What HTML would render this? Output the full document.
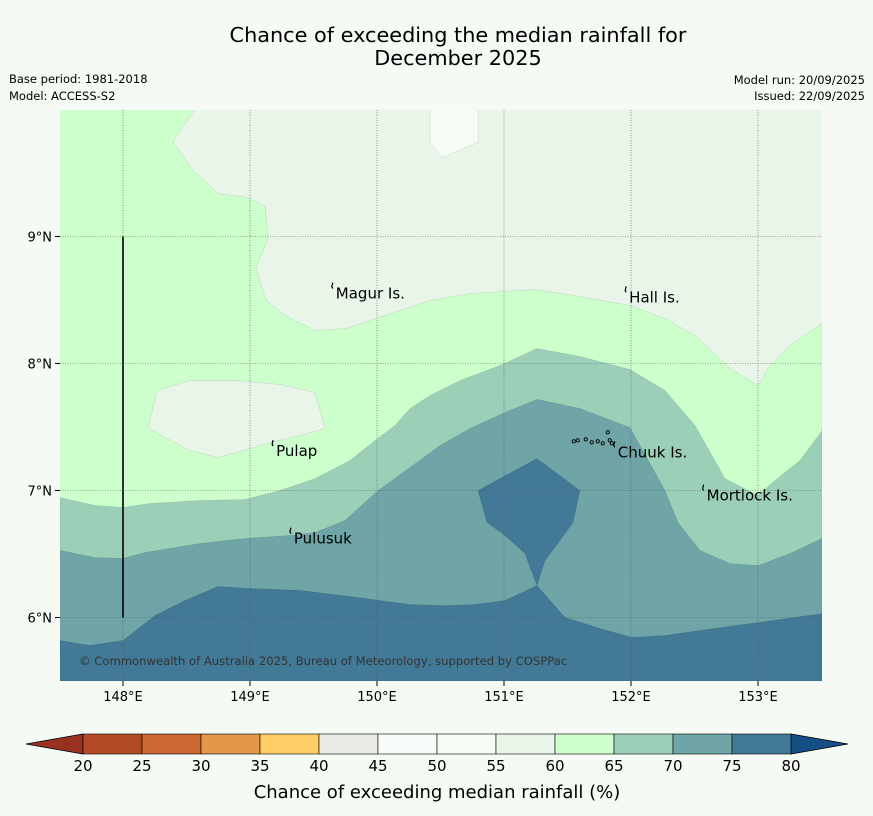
<!DOCTYPE html>
<html><head><meta charset="utf-8">
<style>
body{margin:0;background:#f5faf5;}
svg{display:block;font-family:"DejaVu Sans","Liberation Sans",sans-serif;}
</style></head>
<body>
<svg id="chart" width="873" height="816" viewBox="0 0 873 816" xmlns="http://www.w3.org/2000/svg">
<rect width="873" height="816" fill="#f5faf5"/>
<text x="458" y="42" font-size="20.8" text-anchor="middle" fill="#000">Chance of exceeding the median rainfall for</text>
<text x="458" y="65" font-size="20.8" text-anchor="middle" fill="#000">December 2025</text>
<text x="9" y="83" font-size="11.5">Base period: 1981-2018</text>
<text x="9" y="100" font-size="11.5">Model: ACCESS-S2</text>
<text x="865" y="84" font-size="11.5" text-anchor="end">Model run: 20/09/2025</text>
<text x="865" y="100" font-size="11.5" text-anchor="end">Issued: 22/09/2025</text>
<defs><clipPath id="mapclip"><rect x="60" y="110" width="762" height="571"/></clipPath></defs>
<g id="map" clip-path="url(#mapclip)"></g>
<g id="overlay"></g>
<g id="cbar"></g>
<text x="437" y="798" font-size="18" text-anchor="middle">Chance of exceeding median rainfall (%)</text>
</svg>
<script>
const lonTicks=[148,149,150,151,152,153];
const latTicks=[6,7,8,9];
const cbLevels=[20,25,30,35,40,45,50,55,60,65,70,75,80];
const cbColors=["#b34a27","#cc6633","#e39748","#fecd66","#ebebe6","#f8fcf8","#f5fbf5","#eaf5ea","#ccffcc","#9ccfb7","#6fa5a7","#417996"];
const greenBand=[[147.50,10.0],[148.567,10.0],[148.394,9.748],[148.543,9.528],[148.748,9.339],[148.984,9.307],[149.118,9.236],[149.142,8.992],[149.047,8.748],[149.126,8.496],[149.291,8.370],[149.512,8.260],[149.764,8.276],[150.063,8.378],[150.417,8.496],[150.732,8.551],[151.244,8.583],[151.598,8.528],[151.992,8.457],[152.268,8.354],[152.504,8.220],[152.780,7.961],[153.0,7.827],[153.094,7.984],[153.252,8.142],[153.504,8.315],[153.504,5.5],[147.5,5.5]];
const islandHole=[[148.268,7.787],[148.528,7.866],[148.882,7.866],[149.236,7.835],[149.512,7.772],[149.591,7.488],[149.394,7.433],[149.157,7.378],[148.748,7.260],[148.528,7.315],[148.197,7.488]];
const topPatch=[[150.417,10.0],[150.795,10.0],[150.795,9.74],[150.512,9.622],[150.417,9.74]];
const band65=[[147.504,6.945],[147.780,6.882],[148.0,6.866],[148.213,6.898],[148.606,6.921],[148.961,6.929],[149.236,7.0],[149.512,7.094],[149.787,7.236],[149.984,7.394],[150.142,7.512],[150.260,7.646],[150.417,7.748],[150.654,7.866],[150.969,7.984],[151.260,8.118],[151.598,8.055],[151.992,7.953],[152.268,7.787],[152.504,7.512],[152.740,7.094],[153.0,6.961],[153.134,7.079],[153.331,7.236],[153.504,7.472],[153.504,5.5],[147.5,5.5]];
const band70=[[147.504,6.528],[147.780,6.472],[148.0,6.465],[148.173,6.512],[148.606,6.583],[148.961,6.622],[149.315,6.646],[149.512,6.669],[149.748,6.764],[150.008,7.0],[150.260,7.181],[150.496,7.354],[150.732,7.488],[151.008,7.614],[151.260,7.717],[151.598,7.646],[151.992,7.496],[152.268,7.0],[152.370,6.748],[152.543,6.528],[152.780,6.425],[153.0,6.409],[153.252,6.504],[153.504,6.622],[153.504,5.5],[147.5,5.5]];
const band75=[[147.504,5.819],[147.740,5.780],[148.0,5.819],[148.252,6.016],[148.488,6.134],[148.748,6.244],[149.0,6.228],[149.394,6.213],[149.787,6.165],[150.260,6.102],[150.535,6.094],[150.772,6.102],[151.008,6.134],[151.260,6.252],[151.480,6.0],[151.756,5.913],[152.008,5.843],[152.268,5.858],[152.543,5.898],[153.0,5.961],[153.504,6.031],[153.504,5.5],[147.5,5.5]];
const blob75=[[150.795,7.0],[151.260,7.252],[151.598,7.0],[151.543,6.748],[151.441,6.606],[151.323,6.449],[151.260,6.252],[151.165,6.504],[151.008,6.646],[150.866,6.748]];
const placeNames=["Magur Is.","Hall Is.","Pulap","Chuuk Is.","Mortlock Is.","Pulusuk"];
const placeLon=[149.66,151.97,149.19,151.88,152.58,149.33];
const placeLat=[8.59,8.56,7.35,7.34,7.00,6.66];

const NS="http://www.w3.org/2000/svg";
const x0=60,x1=822,y0=110,y1=681,lonMin=147.504,lonMax=153.504,latMin=5.5,latMax=9.996;
function xs(lon){return x0+(lon-lonMin)/(lonMax-lonMin)*(x1-x0);}
function ys(lat){return y1-(lat-latMin)/(latMax-latMin)*(y1-y0);}
function mk(tag,attrs,parent){const e=document.createElementNS(NS,tag);for(const k in attrs)e.setAttribute(k,attrs[k]);parent.appendChild(e);return e;}
function pts(arr){return arr.map(p=>xs(p[0]).toFixed(1)+","+ys(p[1]).toFixed(1)).join(" ");}
const map=document.getElementById('map');
let e=mk('rect',{x:x0,y:y0,width:x1-x0,height:y1-y0,fill:cbColors[7]},map);


const layers=[[greenBand,cbColors[8],'band-60-65'],[islandHole,cbColors[7],'band-55-60-island'],[topPatch,cbColors[6],'band-50-55-patch'],[band65,cbColors[9],'band-65-70'],[band70,cbColors[10],'band-70-75'],[band75,cbColors[11],'band-75-80'],[blob75,cbColors[11],'band-75-80-central']];
layers.forEach(L=>{
 const p=mk('polygon',{points:pts(L[0]),fill:L[1],stroke:'rgba(0,0,0,0.15)','stroke-width':0.5},map);
 
 
});
const ov=document.getElementById('overlay');
lonTicks.forEach(lon=>{
 const l=mk('line',{x1:xs(lon),x2:xs(lon),y1:y0,y2:y1,stroke:'#555','stroke-width':0.6,'stroke-dasharray':'1,1.5'},ov);
 
 
 mk('line',{x1:xs(lon),x2:xs(lon),y1:y1,y2:y1+5,stroke:'#000'},ov);
 const t=mk('text',{x:xs(lon),y:y1+20,'font-size':13,'text-anchor':'middle'},ov);
 t.textContent=lon+"°E";
 
 
});
latTicks.forEach(lat=>{
 const l=mk('line',{x1:x0,x2:x1,y1:ys(lat),y2:ys(lat),stroke:'#555','stroke-width':0.6,'stroke-dasharray':'1,1.5'},ov);
 
 
 mk('line',{x1:x0-5,x2:x0,y1:ys(lat),y2:ys(lat),stroke:'#000'},ov);
 const t=mk('text',{x:x0-8,y:ys(lat)+5,'font-size':13,'text-anchor':'end'},ov);
 t.textContent=lat+"°N";
 
 
});
e=mk('line',{x1:xs(148),x2:xs(148),y1:ys(9),y2:ys(6),stroke:'#000','stroke-width':1.6},ov);


placeNames.forEach((n,i)=>{
 const px=xs(placeLon[i]),py=ys(placeLat[i]);
 mk('path',{d:`M${px-1},${py-6} l-1,4 l1,2`,stroke:'#000',fill:'none','stroke-width':1.2},ov);
 const t=mk('text',{x:px+2,y:py+10,'font-size':15},ov);
 t.textContent=n;
 
 
});
// chuuk islets
[[-42,-6],[-38,-7],[-30,-8],[-24,-5],[-18,-6],[-13,-4],[-8,-15],[-6,-7],[-4,-4]].forEach(d=>{
 mk('circle',{cx:xs(placeLon[3])+d[0],cy:ys(placeLat[3])+d[1],r:1.6,fill:'none',stroke:'#000','stroke-width':0.9},ov);
});
e=mk('text',{x:79,y:665,'font-size':11.6,fill:'#333'},ov);
e.textContent="© Commonwealth of Australia 2025, Bureau of Meteorology, supported by COSPPac";


// colorbar
const cb=document.getElementById('cbar');
const cx0=83,cx1=791,cy0=734,cy1=754;
function cxs(v){return cx0+(v-cbLevels[0])/(cbLevels[cbLevels.length-1]-cbLevels[0])*(cx1-cx0);}
e=mk('polygon',{points:`26,744 ${cx0},${cy0} ${cx0},${cy1}`,fill:'#9a3020',stroke:'#000','stroke-width':0.8},cb);


e=mk('polygon',{points:`848,744 ${cx1},${cy0} ${cx1},${cy1}`,fill:'#154e85',stroke:'#000','stroke-width':0.8},cb);


cbColors.forEach((c,i)=>{
 const r=mk('rect',{x:cxs(cbLevels[i]),y:cy0,width:cxs(cbLevels[i+1])-cxs(cbLevels[i]),height:cy1-cy0,fill:c,stroke:'#000','stroke-width':0.6},cb);
 
 
});
cbLevels.forEach(v=>{
 const t=mk('text',{x:cxs(v),y:771,'font-size':15,'text-anchor':'middle'},cb);
 t.textContent=v;
 
 
});
</script>
</body></html>
